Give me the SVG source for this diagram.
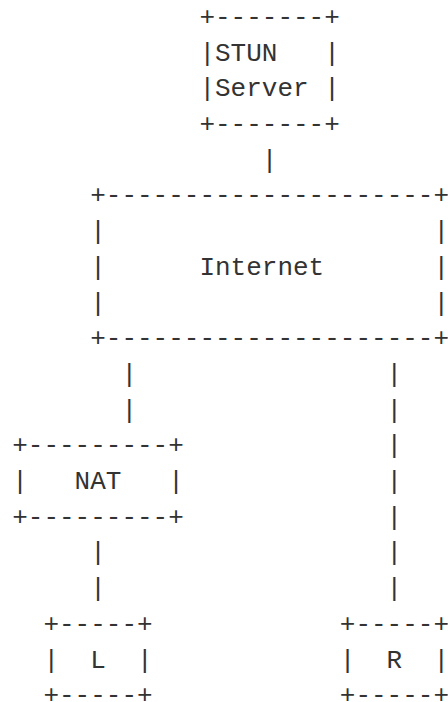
<svg xmlns="http://www.w3.org/2000/svg" width="448" height="702" viewBox="0 0 448 702">
<style>
text { font-family: "Liberation Mono", "DejaVu Sans Mono", monospace; font-size: 26px; fill: #333333; }
</style>
<rect width="448" height="702" fill="#ffffff"/>
<g id="stun-server">
<text x="199.4" y="24.9">+-------+</text>
<text x="199.4" y="60.6">|</text><text x="215.0" y="60.6">STUN</text><text x="324.2" y="60.6">|</text>
<text x="199.4" y="96.3">|</text><text x="215.0" y="96.3">Server</text><text x="324.2" y="96.3">|</text>
<text x="199.4" y="132.0">+-------+</text>
</g>
<g id="internet">
<text x="90.2" y="203.4">+---------------------+</text>
<text x="90.2" y="239.1">|</text><text x="433.4" y="239.1">|</text>
<text x="90.2" y="274.8">|</text><text x="199.4" y="274.8">Internet</text><text x="433.4" y="274.8">|</text>
<text x="90.2" y="310.5">|</text><text x="433.4" y="310.5">|</text>
<text x="90.2" y="346.2">+---------------------+</text>
</g>
<g id="nat">
<text x="12.2" y="453.3">+---------+</text>
<text x="12.2" y="489.0">|</text><text x="74.6" y="489.0">NAT</text><text x="168.2" y="489.0">|</text>
<text x="12.2" y="524.7">+---------+</text>
</g>
<g id="host-l">
<text x="43.4" y="631.8">+-----+</text>
<text x="43.4" y="667.5">|</text><text x="90.2" y="667.5">L</text><text x="137.0" y="667.5">|</text>
<text x="43.4" y="703.2">+-----+</text>
</g>
<g id="host-r">
<text x="339.8" y="631.8">+-----+</text>
<text x="339.8" y="667.5">|</text><text x="386.6" y="667.5">R</text><text x="433.4" y="667.5">|</text>
<text x="339.8" y="703.2">+-----+</text>
</g>
<g id="connectors">
<text x="261.8" y="167.7">|</text>
<text x="121.4" y="381.9">|</text>
<text x="121.4" y="417.6">|</text>
<text x="386.6" y="381.9">|</text>
<text x="386.6" y="417.6">|</text>
<text x="386.6" y="453.3">|</text>
<text x="386.6" y="489.0">|</text>
<text x="386.6" y="524.7">|</text>
<text x="386.6" y="560.4">|</text>
<text x="386.6" y="596.1">|</text>
<text x="90.2" y="560.4">|</text>
<text x="90.2" y="596.1">|</text>
</g>
</svg>
